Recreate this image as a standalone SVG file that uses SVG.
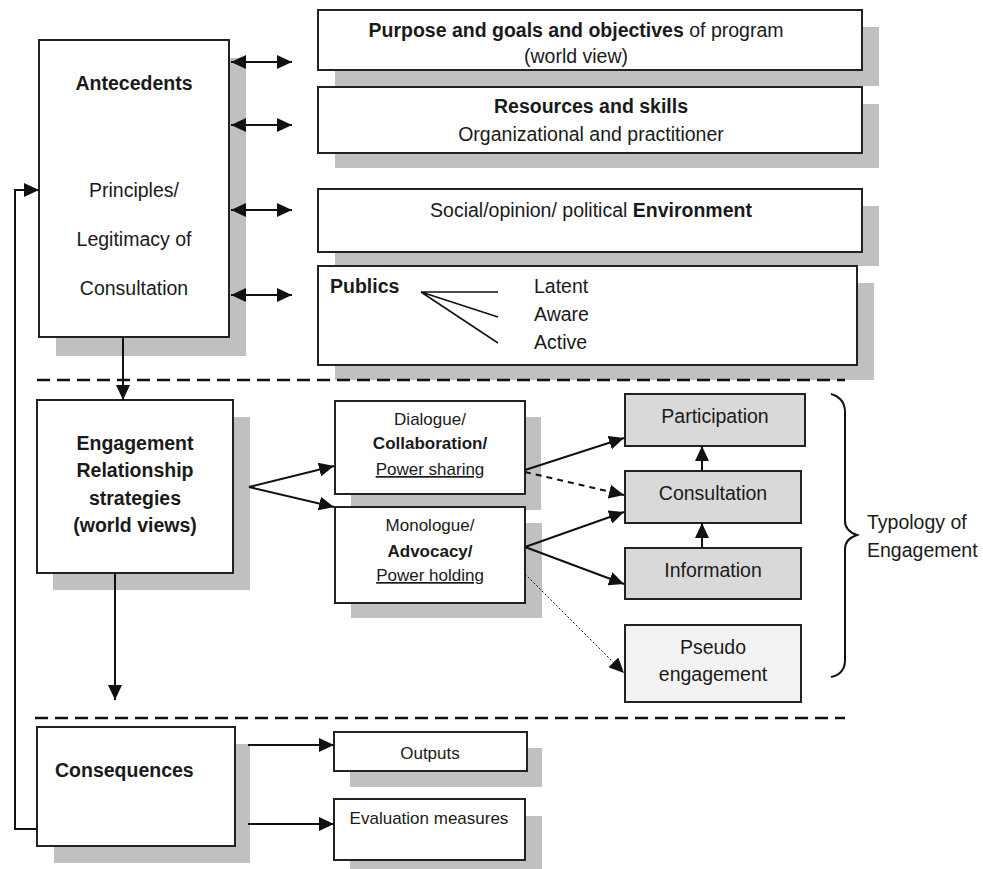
<svg xmlns="http://www.w3.org/2000/svg" width="983" height="869" viewBox="0 0 983 869">
<defs>
<marker id="ah" markerUnits="userSpaceOnUse" markerWidth="16" markerHeight="14" refX="15" refY="7" orient="auto-start-reverse"><path d="M0,0 L15,7 L0,14 z" fill="#111"/></marker>
<style>
text{font-family:"Liberation Sans",Arial,sans-serif;fill:#1a1a1a}
.t{font-size:19.5px}
.s{font-size:17px}
.b{font-weight:bold}
.m{text-anchor:middle}
.box{fill:#fff;stroke:#222;stroke-width:2}
.gbox{fill:#d9d9d9;stroke:#222;stroke-width:2}
.pbox{fill:#f3f3f3;stroke:#222;stroke-width:2}
.sh{fill:#c0c0c0}
.c{fill:none;stroke:#111;stroke-width:2}
.a{marker-end:url(#ah)}
.d{marker-start:url(#ah);marker-end:url(#ah)}
.sep{fill:none;stroke:#111;stroke-width:2.5;stroke-dasharray:13 7}
</style>
</defs>
<rect width="983" height="869" fill="#fff"/>

<g id="antecedents">
<rect class="sh" x="56" y="58" width="190" height="298"/>
<rect class="box" x="39" y="40" width="190" height="297"/>
<text class="t b m" x="134" y="90">Antecedents</text>
<text class="t m" x="134" y="197">Principles/</text>
<text class="t m" x="134" y="246">Legitimacy of</text>
<text class="t m" x="134" y="295">Consultation</text>
</g>

<g id="purpose">
<rect class="sh" x="335" y="27" width="544" height="59"/>
<rect class="box" x="318" y="10" width="544" height="60"/>
<text class="t m" x="576" y="37"><tspan class="b">Purpose and goals and objectives</tspan> of program</text>
<text class="t m" x="576" y="63">(world view)</text>
</g>

<g id="resources">
<rect class="sh" x="335" y="104" width="544" height="64"/>
<rect class="box" x="318" y="87" width="544" height="66"/>
<text class="t b m" x="591" y="113">Resources and skills</text>
<text class="t m" x="591" y="141">Organizational and practitioner</text>
</g>

<g id="environment">
<rect class="sh" x="335" y="206" width="544" height="60"/>
<rect class="box" x="318" y="189" width="544" height="63"/>
<text class="t m" x="591" y="217">Social/opinion/ political <tspan class="b">Environment</tspan></text>
</g>

<g id="publics">
<rect class="sh" x="335" y="283" width="539" height="97"/>
<rect class="box" x="318" y="266" width="539" height="99"/>
<text class="t b" x="330" y="293">Publics</text>
<path class="c" d="M421,292 L498,292 M421,292 L498,317 M421,292 L498,343" style="stroke-width:1.5"/>
<text class="t" x="534" y="293">Latent</text>
<text class="t" x="534" y="321">Aware</text>
<text class="t" x="534" y="349">Active</text>
</g>

<g id="engagement">
<rect class="sh" x="53" y="417" width="197" height="173"/>
<rect class="box" x="37" y="400" width="196" height="173"/>
<text class="t b m" x="135" y="450">Engagement</text>
<text class="t b m" x="135" y="477">Relationship</text>
<text class="t b m" x="135" y="505">strategies</text>
<text class="t b m" x="135" y="532">(world views)</text>
</g>

<g id="dialogue">
<rect class="sh" x="351" y="417" width="190" height="93"/>
<rect class="box" x="335" y="401" width="190" height="93"/>
<text class="s m" x="430" y="425">Dialogue/</text>
<text class="s b m" x="430" y="449">Collaboration/</text>
<text class="s m" x="430" y="475" text-decoration="underline">Power sharing</text>
</g>

<g id="monologue">
<rect class="sh" x="351" y="523" width="191" height="95"/>
<rect class="box" x="335" y="507" width="190" height="96"/>
<text class="s m" x="430" y="531">Monologue/</text>
<text class="s b m" x="430" y="557">Advocacy/</text>
<text class="s m" x="430" y="581" text-decoration="underline">Power holding</text>
</g>

<g id="participation">
<rect class="gbox" x="625" y="394" width="180" height="52"/>
<text class="t m" x="715" y="423">Participation</text>
</g>

<g id="consultation">
<rect class="gbox" x="625" y="471" width="176" height="52"/>
<text class="t m" x="713" y="500">Consultation</text>
</g>

<g id="information">
<rect class="gbox" x="625" y="548" width="176" height="51"/>
<text class="t m" x="713" y="577">Information</text>
</g>

<g id="pseudo">
<rect class="pbox" x="625" y="625" width="176" height="77"/>
<text class="t m" x="713" y="654">Pseudo</text>
<text class="t m" x="713" y="681">engagement</text>
</g>

<g id="typology">
<path class="c" d="M831,394 Q845,398 845,412 L845,521 Q845,531 857,535 Q845,539 845,549 L845,660 Q845,674 831,677"/>
<text class="t" x="867" y="529">Typology of</text>
<text class="t" x="867" y="557">Engagement</text>
</g>

<g id="consequences">
<rect class="sh" x="54" y="744" width="196" height="119"/>
<rect class="box" x="37" y="727" width="198" height="119"/>
<text class="t b" x="55" y="777">Consequences</text>
</g>

<g id="outputs">
<rect class="sh" x="350" y="748" width="192" height="39"/>
<rect class="box" x="334" y="732" width="193" height="39"/>
<text class="s m" x="430" y="759">Outputs</text>
</g>

<g id="evaluation">
<rect class="sh" x="350" y="816" width="192" height="60"/>
<rect class="box" x="334" y="799" width="191" height="61"/>
<text class="s m" x="429" y="824">Evaluation measures</text>
</g>

<g id="separators">
<line class="sep" x1="37" y1="380" x2="845" y2="380"/>
<line class="sep" x1="35" y1="718" x2="845" y2="718"/>
</g>

<g id="connectors">
<line class="c d" x1="231" y1="62" x2="292" y2="62"/>
<line class="c d" x1="231" y1="125" x2="292" y2="125"/>
<line class="c d" x1="231" y1="210" x2="292" y2="210"/>
<line class="c d" x1="231" y1="295" x2="292" y2="295"/>
<line class="c a" x1="123" y1="337" x2="123" y2="400"/>
<polyline class="c a" points="37,829 15,829 15,190 39,190"/>
<line class="c a" x1="249" y1="487" x2="334" y2="466"/>
<line class="c a" x1="249" y1="487" x2="334" y2="507"/>
<line class="c a" x1="525" y1="470" x2="624" y2="438"/>
<line class="c a" x1="525" y1="472" x2="624" y2="495" style="stroke-dasharray:6 5"/>
<line class="c a" x1="525" y1="547" x2="624" y2="512"/>
<line class="c a" x1="525" y1="547" x2="624" y2="584"/>
<line class="c a" x1="525" y1="574" x2="624" y2="673" style="stroke-width:1;stroke-dasharray:2 2"/>
<line class="c a" x1="702" y1="548" x2="702" y2="523"/>
<line class="c a" x1="702" y1="471" x2="702" y2="446"/>
<line class="c a" x1="115" y1="573" x2="115" y2="700"/>
<line class="c a" x1="248" y1="745" x2="334" y2="745"/>
<line class="c a" x1="248" y1="824" x2="334" y2="824"/>
</g>
</svg>
